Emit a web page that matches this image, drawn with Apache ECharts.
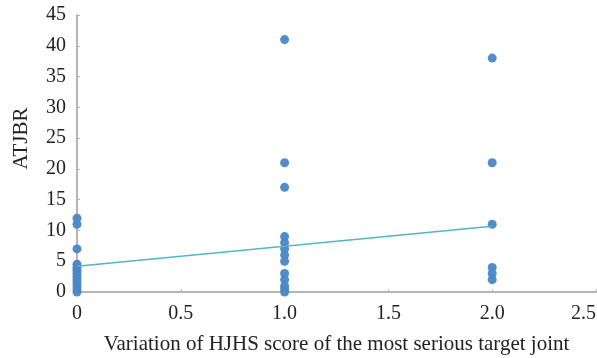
<!DOCTYPE html>
<html>
<head>
<meta charset="utf-8">
<script src="https://cdn.jsdelivr.net/npm/echarts@6/dist/echarts.min.js"></script>
<style>
  html, body { margin: 0; padding: 0; background: #fff; }
  #chart { width: 597px; height: 358px; }
</style>
</head>
<body>
<div id="chart"></div>
<script>
// HJHS score variation groups and the ATJBR values observed in each
const groupScores = [0, 1, 2];
const atjbrAtScore0 = [12, 11, 7, 4.5, 4, 3.5, 3, 2.5, 2, 1.5, 1, 0.5, 0];
const atjbrAtScore1 = [41, 21, 17, 9, 8, 7, 6, 5, 3, 2, 1, 0.5, 0];
const atjbrAtScore2 = [38, 21, 11, 4, 3, 2];

// Fitted trend line endpoints (x, y)
const trendX = [0, 2];
const trendY = [4.2, 10.7];

// Tick labels
const xTickLabels = { 0: '0', 0.5: '0.5', 1: '1.0', 1.5: '1.5', 2: '2.0', 2.5: '2.5' };
const yTickValues = [0, 5, 10, 15, 20, 25, 30, 35, 40, 45];

const groups = [atjbrAtScore0, atjbrAtScore1, atjbrAtScore2];
const scatterData = [];
groups.forEach((vals, i) => vals.forEach(v => scatterData.push([groupScores[i], v])));
const trendData = trendX.map((x, i) => [x, trendY[i]]);

const font = 'Liberation Serif, Times New Roman, serif';
const axisGray = '#b4b4b4';
const textColor = '#222';

const chart = echarts.init(document.getElementById('chart'));
chart.setOption({
  animation: false,
  backgroundColor: '#ffffff',
  grid: { left: 77, right: 1, top: 15, bottom: 66, outerBoundsMode: 'none', containLabel: false },
  xAxis: {
    type: 'value',
    min: 0, max: 2.5, interval: 0.5,
    name: 'Variation of HJHS score of the most serious target joint',
    nameLocation: 'middle',
    nameGap: 42,
    nameTextStyle: { fontFamily: font, fontSize: 21, color: textColor },
    axisLine: { show: true, lineStyle: { color: axisGray, width: 2 } },
    axisTick: { show: true, inside: true, length: 3, lineStyle: { color: axisGray } },
    axisLabel: {
      fontFamily: font, fontSize: 20, color: textColor, margin: 12,
      alignMaxLabel: 'right',
      formatter: v => xTickLabels[v] !== undefined ? xTickLabels[v] : String(v)
    },
    splitLine: { show: false }
  },
  yAxis: {
    type: 'value',
    min: yTickValues[0], max: yTickValues[yTickValues.length - 1], interval: 5,
    name: 'ATJBR',
    nameLocation: 'middle',
    nameGap: 45,
    nameRotate: 90,
    nameTextStyle: { fontFamily: font, fontSize: 21, color: textColor, padding: [0, 0, 0, 30] },
    axisLine: { show: true, lineStyle: { color: axisGray, width: 2 } },
    axisTick: { show: true, inside: true, length: 3, lineStyle: { color: axisGray } },
    axisLabel: { fontFamily: font, fontSize: 20, color: textColor, margin: 11 },
    splitLine: { show: false }
  },
  series: [
    {
      type: 'line',
      data: trendData,
      symbol: 'none',
      lineStyle: { color: '#4fb6c8', width: 1.5 },
      z: 3
    },
    {
      type: 'scatter',
      data: scatterData,
      symbolSize: 9,
      clip: false,
      itemStyle: { color: '#4a87c6', opacity: 0.95 },
      z: 2
    }
  ]
});
</script>
</body>
</html>
